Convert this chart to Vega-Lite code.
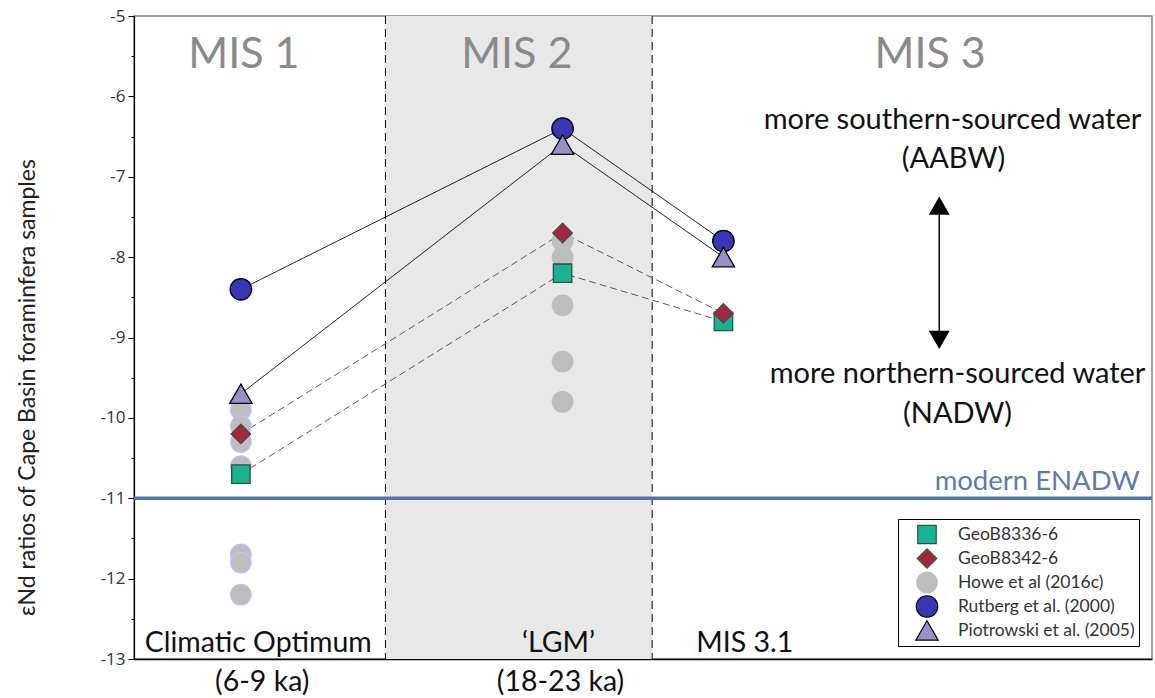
{
  "$schema": "https://vega.github.io/schema/vega-lite/v6.json",
  "width": 1018,
  "height": 643,
  "autosize": {"type": "none"},
  "padding": {"left": 134, "top": 16, "right": 3, "bottom": 39},
  "background": "white",
  "config": {
    "view": {"stroke": "#7f7f7f", "strokeWidth": 1.5},
    "font": "Lato",
    "text": {"font": "Lato"}
  },
  "datasets": {
    "samples": [
      {"series": "Howe et al (2016c)", "period": "Climatic Optimum", "x": 10.5, "y": -9.9},
      {"series": "Howe et al (2016c)", "period": "Climatic Optimum", "x": 10.5, "y": -10.1},
      {"series": "Howe et al (2016c)", "period": "Climatic Optimum", "x": 10.5, "y": -10.3},
      {"series": "Howe et al (2016c)", "period": "Climatic Optimum", "x": 10.5, "y": -10.6},
      {"series": "Howe et al (2016c)", "period": "Climatic Optimum", "x": 10.5, "y": -11.7},
      {"series": "Howe et al (2016c)", "period": "Climatic Optimum", "x": 10.5, "y": -11.8},
      {"series": "Howe et al (2016c)", "period": "Climatic Optimum", "x": 10.5, "y": -12.2},
      {"series": "Howe et al (2016c)", "period": "LGM", "x": 42.1, "y": -7.8},
      {"series": "Howe et al (2016c)", "period": "LGM", "x": 42.1, "y": -8.0},
      {"series": "Howe et al (2016c)", "period": "LGM", "x": 42.1, "y": -8.6},
      {"series": "Howe et al (2016c)", "period": "LGM", "x": 42.1, "y": -9.3},
      {"series": "Howe et al (2016c)", "period": "LGM", "x": 42.1, "y": -9.8},
      {"series": "GeoB8336-6", "period": "Climatic Optimum", "x": 10.5, "y": -10.7},
      {"series": "GeoB8336-6", "period": "LGM", "x": 42.1, "y": -8.2},
      {"series": "GeoB8336-6", "period": "MIS 3.1", "x": 57.9, "y": -8.8},
      {"series": "GeoB8342-6", "period": "Climatic Optimum", "x": 10.5, "y": -10.2},
      {"series": "GeoB8342-6", "period": "LGM", "x": 42.1, "y": -7.7},
      {"series": "GeoB8342-6", "period": "MIS 3.1", "x": 57.9, "y": -8.7},
      {"series": "Rutberg et al. (2000)", "period": "Climatic Optimum", "x": 10.5, "y": -8.4},
      {"series": "Rutberg et al. (2000)", "period": "LGM", "x": 42.1, "y": -6.4},
      {"series": "Rutberg et al. (2000)", "period": "MIS 3.1", "x": 57.9, "y": -7.8},
      {"series": "Piotrowski et al. (2005)", "period": "Climatic Optimum", "x": 10.5, "y": -9.7},
      {"series": "Piotrowski et al. (2005)", "period": "LGM", "x": 42.1, "y": -6.6},
      {"series": "Piotrowski et al. (2005)", "period": "MIS 3.1", "x": 57.9, "y": -8.0}
    ]
  },
  "layer": [
    {
      "data": {"values": [{"x1": 24.7, "x2": 50.9}]},
      "mark": {"type": "rect", "fill": "#e8e8e8"},
      "encoding": {
        "x": {"field": "x1", "type": "quantitative", "scale": {"domain": [0, 100], "nice": false, "zero": false},
          "axis": {"labels": false, "ticks": false, "grid": false, "domainColor": "#000000", "domainWidth": 1.5, "title": null}},
        "x2": {"field": "x2"},
        "y": {"datum": -5, "type": "quantitative", "scale": {"domain": [-13, -5], "nice": false, "zero": false},
          "axis": {
            "title": "εNd ratios of Cape Basin foraminfera samples",
            "values": [-5, -5.5, -6, -6.5, -7, -7.5, -8, -8.5, -9, -9.5, -10, -10.5, -11, -11.5, -12, -12.5, -13],
            "labelExpr": "datum.value % 1 === 0 ? '' + datum.value : ''",
            "grid": false,
            "domainColor": "#000000",
            "domainWidth": 1.2,
            "tickColor": "#000000",
            "tickSize": {"condition": {"test": "datum.value % 1 !== 0", "value": 3}, "value": 6},
            "labelFont": "Open Sans",
            "labelFontSize": 17,
            "labelColor": "#333333",
            "labelPadding": 3,
            "titleFont": "Lato",
            "titleFontSize": 23,
            "titleFontWeight": "normal",
            "titleColor": "#222222",
            "titleX": -107,
            "titleY": 371,
            "titleAlign": "center",
            "titleBaseline": "middle",
            "titleAngle": -90
          }},
        "y2": {"datum": -13}
      }
    },
    {
      "data": {"values": [{"x": 24.7}, {"x": 50.9}]},
      "mark": {"type": "rule", "color": "#000000", "strokeWidth": 1, "strokeDash": [8, 5]},
      "encoding": {
        "x": {"field": "x", "type": "quantitative"}
      }
    },
    {
      "data": {"values": [{"y": -11}]},
      "mark": {"type": "rule", "color": "#5574a8", "strokeWidth": 3.5},
      "encoding": {
        "y": {"field": "y", "type": "quantitative"}
      }
    },
    {
      "data": {"name": "samples"},
      "transform": [{"filter": "datum.series !== 'Howe et al (2016c)'"}],
      "mark": {"type": "line"},
      "encoding": {
        "x": {"field": "x", "type": "quantitative"},
        "y": {"field": "y", "type": "quantitative"},
        "detail": {"field": "series"},
        "order": {"field": "x"},
        "color": {"field": "series", "type": "nominal", "legend": null,
          "scale": {"domain": ["GeoB8336-6", "GeoB8342-6", "Rutberg et al. (2000)", "Piotrowski et al. (2005)"], "range": ["#5a5a5a", "#5a5a5a", "#000000", "#000000"]}},
        "strokeDash": {"field": "series", "type": "nominal", "legend": null,
          "scale": {"domain": ["GeoB8336-6", "GeoB8342-6", "Rutberg et al. (2000)", "Piotrowski et al. (2005)"], "range": [[7, 4], [7, 4], [1, 0], [1, 0]]}},
        "strokeWidth": {"field": "series", "type": "nominal", "legend": null,
          "scale": {"domain": ["GeoB8336-6", "GeoB8342-6", "Rutberg et al. (2000)", "Piotrowski et al. (2005)"], "range": [1, 1, 1.8, 1.8]}}
      }
    },
    {
      "data": {"name": "samples"},
      "mark": {"type": "point", "filled": true, "opacity": 1, "strokeWidth": 1.3},
      "encoding": {
        "x": {"field": "x", "type": "quantitative"},
        "y": {"field": "y", "type": "quantitative"},
        "fill": {"field": "series", "type": "nominal",
          "scale": {"domain": ["GeoB8336-6", "GeoB8342-6", "Howe et al (2016c)", "Rutberg et al. (2000)", "Piotrowski et al. (2005)"],
            "range": ["#1ab38f", "#a2283f", "#bdbdbd", "#3b36b6", "#9a8ec6"]},
          "legend": {"orient": "none", "legendX": 764, "legendY": 503, "title": null, "strokeColor": "#000000", "fillColor": "#ffffff",
            "padding": 4, "rowPadding": 1, "clipHeight": 23, "labelFont": "Lato", "labelFontSize": 17.5, "labelColor": "#333333",
            "symbolOffset": 13, "labelOffset": 19, "symbolStrokeWidth": 1.2, "labelLimit": 300}},
        "shape": {"field": "series", "type": "nominal",
          "scale": {"domain": ["GeoB8336-6", "GeoB8342-6", "Howe et al (2016c)", "Rutberg et al. (2000)", "Piotrowski et al. (2005)"],
            "range": ["square", "diamond", "circle", "circle", "triangle-up"]}},
        "stroke": {
          "condition": {"test": "datum.series === 'Howe et al (2016c)' && datum.x < 20", "value": "#c4bdf4"},
          "field": "series", "type": "nominal",
          "scale": {"domain": ["GeoB8336-6", "GeoB8342-6", "Howe et al (2016c)", "Rutberg et al. (2000)", "Piotrowski et al. (2005)"],
            "range": ["#2f4f47", "#4a4a4a", "#bdbdbd", "#000000", "#000000"]}},
        "size": {"field": "series", "type": "nominal",
          "scale": {"domain": ["GeoB8336-6", "GeoB8342-6", "Howe et al (2016c)", "Rutberg et al. (2000)", "Piotrowski et al. (2005)"],
            "range": [340, 500, 260, 520, 380]}}
      }
    },
    {
      "data": {"values": [{"x": 79.1, "y1": -7.42, "y2": -8.97}]},
      "mark": {"type": "rule", "color": "#000000", "strokeWidth": 1.5},
      "encoding": {
        "x": {"field": "x", "type": "quantitative"},
        "y": {"field": "y1", "type": "quantitative"},
        "y2": {"field": "y2"}
      }
    },
    {
      "data": {"values": [{"x": 79.1, "y": -7.36}]},
      "mark": {"type": "point", "shape": "triangle-up", "filled": true, "color": "#000000", "size": 440, "opacity": 1},
      "encoding": {
        "x": {"field": "x", "type": "quantitative"},
        "y": {"field": "y", "type": "quantitative"}
      }
    },
    {
      "data": {"values": [{"x": 79.1, "y": -9.03}]},
      "mark": {"type": "point", "shape": "triangle-down", "filled": true, "color": "#000000", "size": 440, "opacity": 1},
      "encoding": {
        "x": {"field": "x", "type": "quantitative"},
        "y": {"field": "y", "type": "quantitative"}
      }
    },
    {
      "data": {"values": [
        {"t": "MIS 1", "x": 10.8, "y": -5.647},
        {"t": "MIS 2", "x": 37.6, "y": -5.647},
        {"t": "MIS 3", "x": 78.2, "y": -5.647}
      ]},
      "mark": {"type": "text", "font": "Lato", "fontSize": 43, "color": "#8a8a8a", "align": "center", "baseline": "alphabetic"},
      "encoding": {
        "x": {"field": "x", "type": "quantitative"},
        "y": {"field": "y", "type": "quantitative"},
        "text": {"field": "t"}
      }
    },
    {
      "data": {"values": [
        {"t": "Climatic Optimum", "x": 12.2, "y": -12.91},
        {"t": "‘LGM’", "x": 41.7, "y": -12.91},
        {"t": "MIS 3.1", "x": 60.0, "y": -12.91},
        {"t": "(6-9 ka)", "x": 12.6, "y": -13.40},
        {"t": "(18-23 ka)", "x": 41.9, "y": -13.40}
      ]},
      "mark": {"type": "text", "font": "Lato", "fontSize": 28.5, "color": "#111111", "align": "center", "baseline": "alphabetic"},
      "encoding": {
        "x": {"field": "x", "type": "quantitative"},
        "y": {"field": "y", "type": "quantitative"},
        "text": {"field": "t"}
      }
    },
    {
      "data": {"values": [
        {"t": "more southern-sourced water", "x": 80.4, "y": -6.41},
        {"t": "(AABW)", "x": 80.5, "y": -6.89},
        {"t": "more northern-sourced water", "x": 80.9, "y": -9.57},
        {"t": "(NADW)", "x": 80.9, "y": -10.06}
      ]},
      "mark": {"type": "text", "font": "Lato", "fontSize": 29, "color": "#111111", "align": "center", "baseline": "alphabetic"},
      "encoding": {
        "x": {"field": "x", "type": "quantitative"},
        "y": {"field": "y", "type": "quantitative"},
        "text": {"field": "t"}
      }
    },
    {
      "data": {"values": [{"t": "modern ENADW", "x": 98.8, "y": -10.90}]},
      "mark": {"type": "text", "font": "Lato", "fontSize": 27.5, "color": "#5b7bb2", "align": "right", "baseline": "alphabetic"},
      "encoding": {
        "x": {"field": "x", "type": "quantitative"},
        "y": {"field": "y", "type": "quantitative"},
        "text": {"field": "t"}
      }
    }
  ]
}
